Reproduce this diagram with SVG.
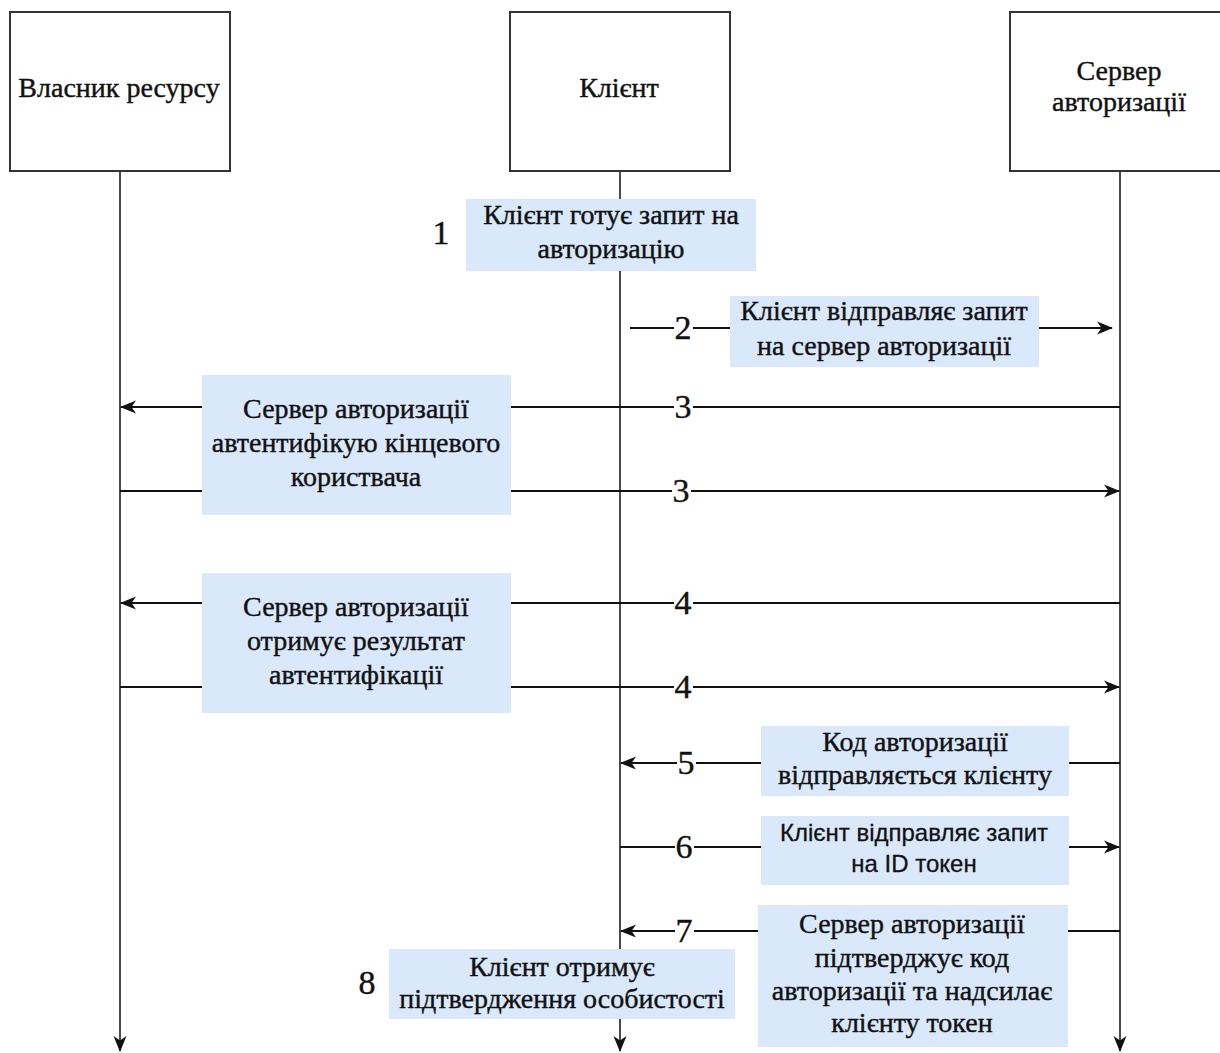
<svg xmlns="http://www.w3.org/2000/svg" width="1220" height="1053" viewBox="0 0 1220 1053">
  <style>
    .actor { fill: #ffffff; stroke: #333333; stroke-width: 2; }
    .life { stroke: #4a4a4a; stroke-width: 2; fill: none; }
    .msg { stroke: #111111; stroke-width: 2; fill: none; }
    .note { fill: #dae8fc; stroke: none; }
    .t { font-family: "Liberation Serif", "Times New Roman", serif; font-size: 28px; fill: #111111; stroke: #111111; stroke-width: 0.4; text-anchor: middle; }
    .ts { font-family: "Liberation Sans", Arial, sans-serif; font-size: 24px; fill: #111111; stroke: #111111; stroke-width: 0.3; text-anchor: middle; }
    .num { font-family: "Liberation Serif", "Times New Roman", serif; font-size: 34px; fill: #111111; stroke: #111111; stroke-width: 0.4; text-anchor: middle; }
    .bg { fill: #ffffff; }
  </style>
  <defs>
    <marker id="arrow" viewBox="0 0 16 16" refX="15" refY="8" markerWidth="16" markerHeight="16" markerUnits="userSpaceOnUse" orient="auto">
      <path d="M0,1.5 L16,8 L0,14.5 L4.5,8 Z" fill="#111111"/>
    </marker>
  </defs>
  <rect width="1220" height="1053" fill="#ffffff"/>

  <!-- lifelines -->
  <g id="lifelines">
    <line class="life" x1="120" y1="171" x2="120" y2="1051" marker-end="url(#arrow)"/>
    <line class="life" x1="620" y1="171" x2="620" y2="1051" marker-end="url(#arrow)"/>
    <line class="life" x1="1120" y1="171" x2="1120" y2="1051" marker-end="url(#arrow)"/>
  </g>

  <!-- actors -->
  <g id="owner">
    <rect class="actor" x="10" y="12" width="220" height="159"/>
    <text class="t" x="119" y="97">Власник ресурсу</text>
  </g>
  <g id="client">
    <rect class="actor" x="510" y="12" width="220" height="159"/>
    <text class="t" x="619" y="97">Клієнт</text>
  </g>
  <g id="authserver">
    <rect class="actor" x="1010" y="12" width="230" height="159"/>
    <text class="t" x="1119" y="80">Сервер</text>
    <text class="t" x="1119" y="111">авторизації</text>
  </g>

  <!-- messages -->
  <g id="connectors">
    <line class="msg" x1="630" y1="328" x2="1112" y2="328" marker-end="url(#arrow)"/>
    <line class="msg" x1="1120" y1="407" x2="121" y2="407" marker-end="url(#arrow)"/>
    <line class="msg" x1="120" y1="491" x2="1119" y2="491" marker-end="url(#arrow)"/>
    <line class="msg" x1="1120" y1="603" x2="121" y2="603" marker-end="url(#arrow)"/>
    <line class="msg" x1="120" y1="687" x2="1119" y2="687" marker-end="url(#arrow)"/>
    <line class="msg" x1="1120" y1="763" x2="621" y2="763" marker-end="url(#arrow)"/>
    <line class="msg" x1="620" y1="847" x2="1119" y2="847" marker-end="url(#arrow)"/>
    <line class="msg" x1="1120" y1="931" x2="621" y2="931" marker-end="url(#arrow)"/>

    <!-- step numbers on the message lines -->
    <rect class="bg" x="674" y="314" width="19" height="28"/>
    <text class="num" x="683" y="339">2</text>
    <rect class="bg" x="674" y="393" width="19" height="28"/>
    <text class="num" x="683" y="418">3</text>
    <rect class="bg" x="672" y="477" width="19" height="28"/>
    <text class="num" x="681" y="502">3</text>
    <rect class="bg" x="674" y="589" width="19" height="28"/>
    <text class="num" x="683" y="614">4</text>
    <rect class="bg" x="674" y="673" width="19" height="28"/>
    <text class="num" x="683" y="698">4</text>
    <rect class="bg" x="677" y="749" width="19" height="28"/>
    <text class="num" x="686" y="774">5</text>
    <rect class="bg" x="675" y="833" width="19" height="28"/>
    <text class="num" x="684" y="858">6</text>
    <rect class="bg" x="675" y="917" width="19" height="28"/>
    <text class="num" x="684" y="942">7</text>
  </g>

  <!-- notes -->
  <g id="step1">
    <rect class="note" x="466" y="199" width="290" height="72"/>
    <text class="t" x="611" y="224">Клієнт готує запит на</text>
    <text class="t" x="611" y="258">авторизацію</text>
    <text class="num" x="441" y="244">1</text>
  </g>
  <g id="step2">
    <rect class="note" x="730" y="296" width="309" height="71"/>
    <text class="t" x="884" y="320">Клієнт відправляє запит</text>
    <text class="t" x="884" y="355">на сервер авторизації</text>
  </g>
  <g id="step3">
    <rect class="note" x="202" y="375" width="309" height="140"/>
    <text class="t" x="356" y="418">Сервер авторизації</text>
    <text class="t" x="356" y="452">автентифікую кінцевого</text>
    <text class="t" x="356" y="486">користвача</text>
  </g>
  <g id="step4">
    <rect class="note" x="202" y="573" width="309" height="140"/>
    <text class="t" x="356" y="616">Сервер авторизації</text>
    <text class="t" x="356" y="650">отримує результат</text>
    <text class="t" x="356" y="684">автентифікації</text>
  </g>
  <g id="step5">
    <rect class="note" x="761" y="726" width="308" height="70"/>
    <text class="t" x="915" y="751">Код авторизації</text>
    <text class="t" x="915" y="784">відправляється клієнту</text>
  </g>
  <g id="step6">
    <rect class="note" x="761" y="816" width="308" height="69"/>
    <text class="ts" x="914" y="841">Клієнт відправляє запит</text>
    <text class="ts" x="914" y="872">на ID токен</text>
  </g>
  <g id="step7">
    <rect class="note" x="758" y="905" width="310" height="142"/>
    <text class="t" x="912" y="933">Сервер авторизації</text>
    <text class="t" x="912" y="967">підтверджує код</text>
    <text class="t" x="912" y="1000">авторизації та надсилає</text>
    <text class="t" x="912" y="1032">клієнту токен</text>
  </g>
  <g id="step8">
    <rect class="note" x="389" y="949" width="346" height="70"/>
    <text class="t" x="562" y="976">Клієнт отримує</text>
    <text class="t" x="562" y="1008">підтвердження особистості</text>
    <text class="num" x="367" y="994">8</text>
  </g>
</svg>
